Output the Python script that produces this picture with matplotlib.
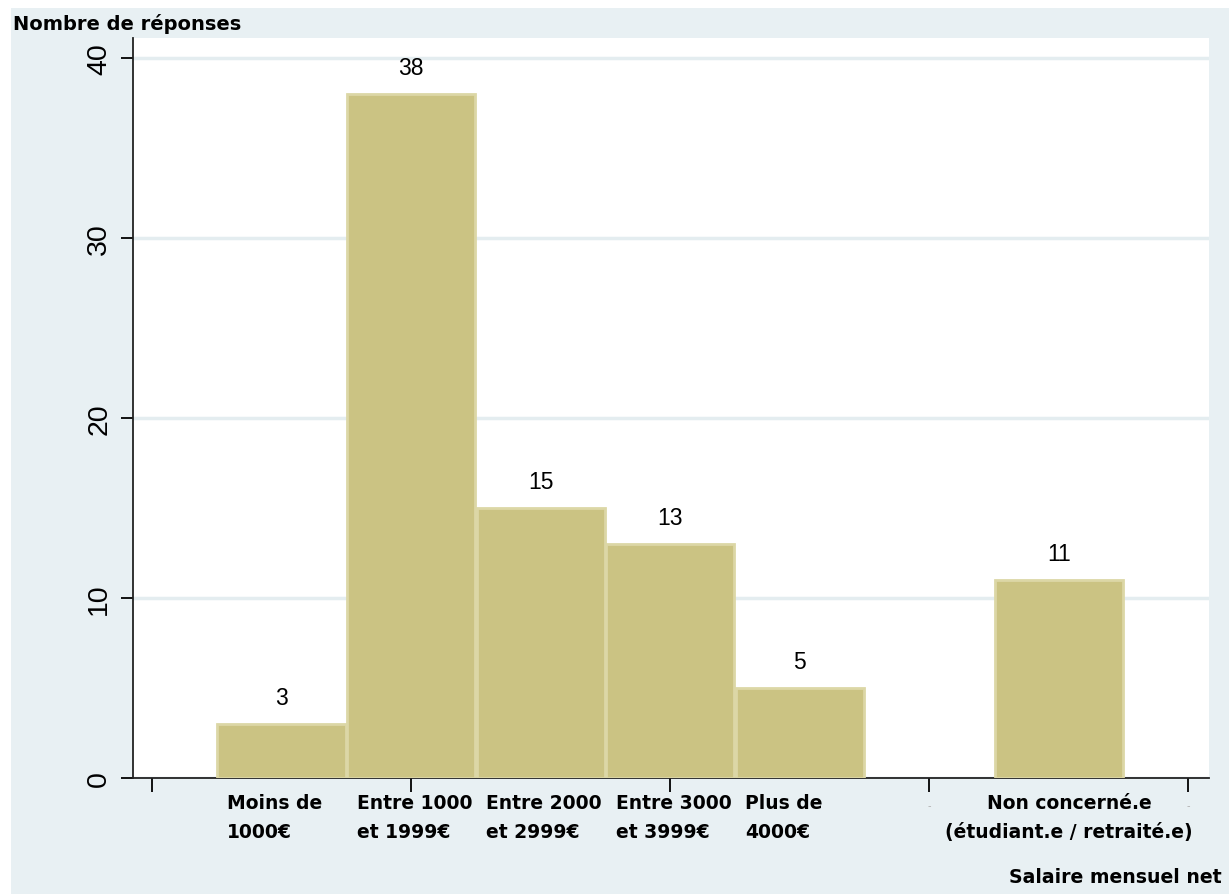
import matplotlib.pyplot as plt
from matplotlib.patches import Rectangle

# categories and counts
categories = ["Moins de\n1000€", "Entre 1000\net 1999€", "Entre 2000\net 2999€",
              "Entre 3000\net 3999€", "Plus de\n4000€",
              "Non concerné.e\n(étudiant.e / retraité.e)"]
positions = [1, 2, 3, 4, 5, 7]
counts = [3, 38, 15, 13, 5, 11]
y_ticks = [0, 10, 20, 30, 40]
x_ticks = [0, 2, 4, 6, 8]
x_tick_labels = ["", "", "", "-", "-"]

bar_color = "#cbc383"
edge_color = "#dcd7a6"
bg_color = "#e8f0f3"
grid_color = "#e4edf0"
label_font = "DejaVu Sans"

fig = plt.figure(figsize=(12.29, 8.95), dpi=100)
fig.patch.set_facecolor("white")
fig.patches.append(Rectangle((11 / 1229, 0), 1 - 11 / 1229, 1 - 9 / 895,
                             transform=fig.transFigure, facecolor=bg_color,
                             edgecolor="none", zorder=-10))

ax = fig.add_axes([133 / 1229, 116 / 895, 1076 / 1229, 740 / 895])
ax.set_facecolor("white")

ax.bar(positions, counts, width=0.99, color=bar_color, edgecolor=edge_color,
       linewidth=2, zorder=3)

for x, v in zip(positions, counts):
    ax.annotate(str(v), (x, v), xytext=(0, 11), textcoords="offset points",
                ha="center", va="bottom", fontsize=16.5, family="Liberation Sans")

ax.set_xlim(-0.147, 8.16)
ax.set_ylim(0, 41.1)

ax.set_yticks(y_ticks)
ax.set_yticklabels([str(t) for t in y_ticks], rotation=90, va="center",
                   fontsize=20.5, family="Liberation Sans")
ax.set_xticks(x_ticks)
ax.set_xticklabels(x_tick_labels, fontsize=7, color="#b0b0b0")
ax.tick_params(axis="y", length=9, width=1.3, pad=6)
ax.tick_params(axis="x", length=10, width=1.3, pad=6)

ax.yaxis.grid(True, color=grid_color, linewidth=2.5, zorder=0)
ax.set_axisbelow(True)
for s in ["top", "right"]:
    ax.spines[s].set_visible(False)
for s in ["left", "bottom"]:
    ax.spines[s].set_linewidth(1.3)
    ax.spines[s].set_color("#222222")

# category labels under the bars, one text per line
for i, (x, lab) in enumerate(zip(positions, categories)):
    last = i == len(categories) - 1
    for j, line in enumerate(lab.split("\n")):
        ax.annotate(line, (x + 0.08 if last else x - 0.42, 0),
                    xycoords=("data", "axes fraction"),
                    xytext=(0, -11 - 21 * j), textcoords="offset points",
                    ha="center" if last else "left", va="top",
                    fontsize=13.5, fontweight="bold", family=label_font)

fig.text(13 / 1229, 1 - 24 / 895, "Nombre de réponses", ha="left", va="center",
         fontsize=14, fontweight="bold", family=label_font)
fig.text(1222 / 1229, 1 - 878 / 895, "Salaire mensuel net", ha="right",
         va="center", fontsize=13.6, fontweight="bold", family=label_font)

fig.savefig("out.png", dpi=100)
